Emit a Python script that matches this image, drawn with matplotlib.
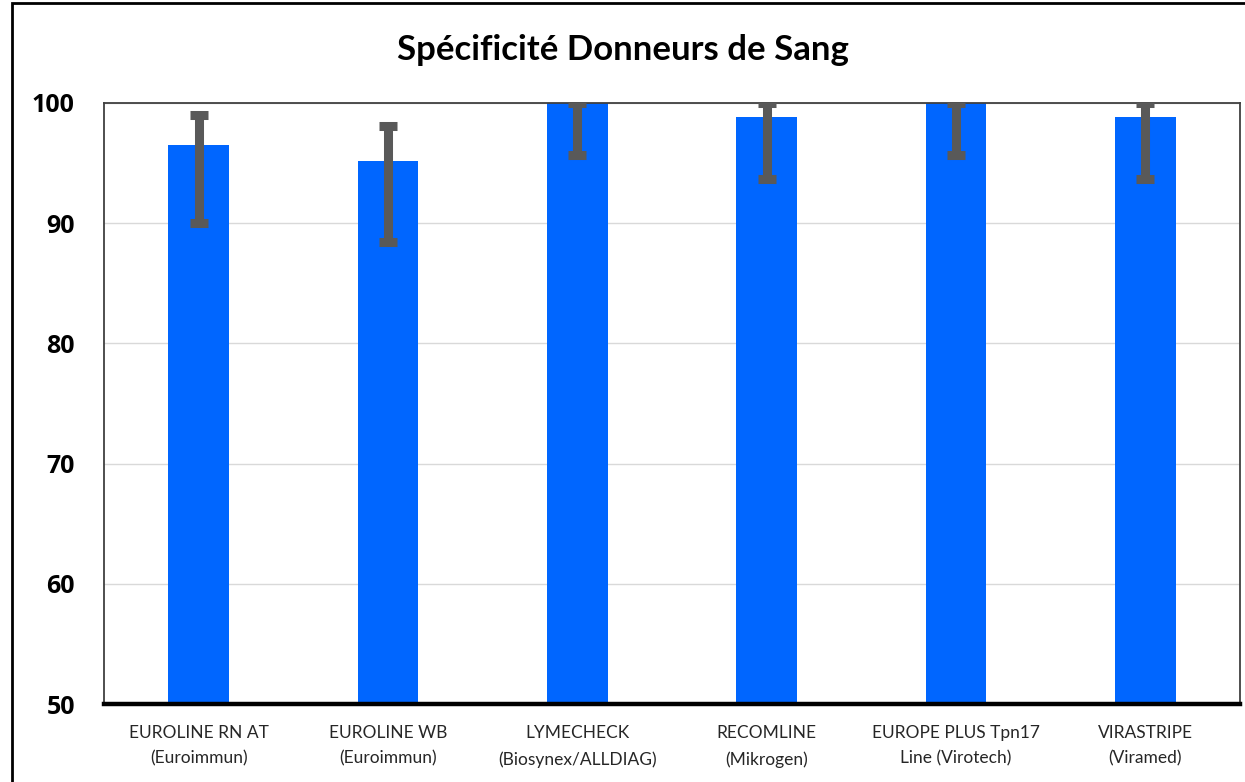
import numpy as np
import matplotlib
matplotlib.use("Agg")
import matplotlib.pyplot as plt
from matplotlib.patches import Rectangle

plt.rcParams['font.family'] = ['Lato', 'DejaVu Sans']

# data
categories = ["EUROLINE RN AT\n(Euroimmun)", "EUROLINE WB\n(Euroimmun)", "LYMECHECK\n(Biosynex/ALLDIAG)",
              "RECOMLINE\n(Mikrogen)", "EUROPE PLUS Tpn17\nLine (Virotech)", "VIRASTRIPE\n(Viramed)"]
specificity = [96.5, 95.2, 100.0, 98.8, 100.0, 98.8]
ci_low = [90.0, 88.4, 95.7, 93.7, 95.7, 93.7]
ci_high = [99.0, 98.1, 100.0, 100.0, 100.0, 100.0]
yticks = [50, 60, 70, 80, 90, 100]

vals = np.array(specificity)
yerr = [vals - np.array(ci_low), np.array(ci_high) - vals]

fig = plt.figure(figsize=(12.45, 7.82), dpi=100)
ax = fig.add_axes([104/1245, 1-704/782, (1240-104)/1245, (704-103)/782])

x = np.arange(len(categories))
ax.bar(x, vals, width=0.32, color="#0066FF", zorder=2)
ax.errorbar(x, vals, yerr=yerr, fmt="none", ecolor="#595959", elinewidth=6.5,
            capsize=6.8, capthick=6.5, zorder=3)

ax.set_ylim(50, 100)
ax.set_xlim(-0.5, len(categories)-0.5)
ax.set_yticks(yticks)
ax.set_yticklabels([str(t) for t in yticks], fontsize=18, fontweight="bold",
                   family=["Open Sans", "DejaVu Sans"])
ax.set_xticks(x)
ax.set_xticklabels(categories, fontsize=12.5, color="#262626", linespacing=1.75)
ax.tick_params(axis="y", length=0, pad=21)
ax.tick_params(axis="x", length=0, pad=15)
ax.yaxis.grid(True, color="#D9D9D9", linewidth=1, zorder=0)
ax.set_axisbelow(True)

for s in ["left", "right", "top"]:
    ax.spines[s].set_color("#404040")
    ax.spines[s].set_linewidth(1.3)
ax.spines["bottom"].set_color("black")
ax.spines["bottom"].set_linewidth(3.2)

fig.text(0.5, 1-50/782, "Spécificité Donneurs de Sang", ha="center", va="center",
         fontsize=25, fontweight="bold")

# outer frame of the original chart
fig.patches.append(Rectangle((12/1245, -0.05), 1.1, 1.05-3/782, transform=fig.transFigure,
                             fill=False, edgecolor="black", linewidth=2, clip_on=False))

fig.savefig("out.png", dpi=100)
